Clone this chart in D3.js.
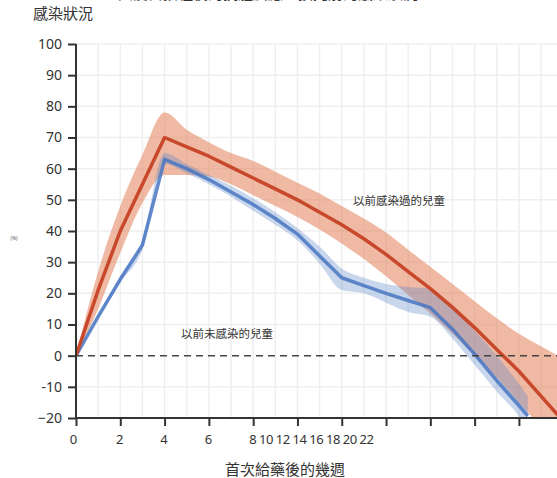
<!DOCTYPE html>
<html><head><meta charset="utf-8">
<script src="https://cdn.jsdelivr.net/npm/d3@7"></script>
<style>
html,body{margin:0;padding:0;background:#fff;}
svg{display:block;font-family:"Noto Sans","Noto Sans CJK TC",sans-serif;}
</style></head>
<body><svg id="c" width="557" height="478"></svg>
<script>
// ---- data ----
const weeksRed = [0,1,2,3,4,5,6,7,8,9,10,11,12,13,14,15,16,17,18,19,20,21,22];
const redMean  = [0,21,40,55,70,67,64,60.5,57,53.5,50,46,42,37.5,32.5,27,21.5,15.5,9,2,-5,-13,-21];
const redUpper = [0,27,48,64.5,78,72.5,68.5,65,62.5,59,55.5,52,48,44,39.5,34,28.5,23,17.5,12,7,3,-1];
const redLower = [0,15,33,49,58,58,57.5,55,51.5,48,44.5,40.5,36,31,25.5,19.5,13.5,7,0,-7,-15,-23,-31];

const weeksBlue = [0,1,2,3,4,5,6,7,8,9,10,11,12,13,14,15,16,17,18,19,20,20.4];
const blueMean  = [0,12.5,24.5,35.5,63,60,56.5,52.5,48.5,44,39,32,25,22.5,20,17.7,15.4,8.5,0.5,-8,-16,-19.3];
const blueUpper = [0,13,25.5,37,65,61.5,58,54.5,50.5,46,41,35,28,25,23,22,21.5,15,8,0,-9,-13];
const blueLower = [0,12,23.5,34,61.5,58.5,55,51,46.5,42,37,29.5,21,20,17,14,12.5,5.5,-3,-11.5,-19.5,-24];

const yTicks = [100,90,80,70,60,50,40,30,20,10,0,-10,-20];
const yTickLabels = ["100","90","80","70","60","50","40","30","20","10","0","-10","\u221220"];
const xTicks = [0,2,4,6,8,10,12,14,16,18,20];
const xTickLabels = ["0","2","4","6","","","","","","",""];
const xCrowdedLabel = "8 10 12 14 16 18 20 22";
const labelRed = "以前感染過的兒童";
const labelBlue = "以前未感染的兒童";

// ---- layout ----
const svg = d3.select("#c");
const L = 76, R = 557, T = 44, B = 418;
const x = d3.scaleLinear().domain([0, 21.72]).range([L, R]);
const y = d3.scaleLinear().domain([-20, 100]).range([B, T]);

svg.append("defs").append("clipPath").attr("id","clip")
  .append("rect").attr("x",L).attr("y",T-10).attr("width",R-L).attr("height",B-T+10);

// top text (cut off at the top edge, as in the reference)
svg.append("text").attr("x",118).attr("y",-1).attr("font-size",15).attr("fill","#333")
  .attr("font-family","Noto Sans CJK TC").text("與疫苗接種後的抗體反應：按先前的感染狀況");

svg.append("text").attr("x",33).attr("y",19).attr("font-size",15).attr("fill","#333")
  .attr("font-family","Noto Sans CJK TC").text("感染狀況");

// grid
const g = svg.append("g");
d3.range(1, 22).forEach(w => {
  g.append("line").attr("x1",x(w)).attr("x2",x(w)).attr("y1",T).attr("y2",B)
   .attr("stroke","#efefef").attr("stroke-width",1.5);
});
yTicks.filter(v => v!==0 && v!==-20).forEach(v => {
  g.append("line").attr("x1",L).attr("x2",R).attr("y1",y(v)).attr("y2",y(v))
   .attr("stroke","#efefef").attr("stroke-width",1.5);
});

// series
const plot = svg.append("g").attr("clip-path","url(#clip)");
const area = (ws, up, lo) => d3.area().x((d,i)=>x(ws[i])).y0((d,i)=>y(lo[i])).y1((d,i)=>y(up[i])).curve(d3.curveMonotoneX)(ws);
const line = (ws, m) => d3.line().x((d,i)=>x(ws[i])).y((d,i)=>y(m[i])).curve(d3.curveLinear)(ws);

plot.append("path").attr("d", area(weeksRed, redUpper, redLower)).attr("fill","rgb(226,128,90)").attr("fill-opacity",0.55);
plot.append("path").attr("d", area(weeksBlue, blueUpper, blueLower)).attr("fill","rgb(90,133,200)").attr("fill-opacity",0.33);
plot.append("path").attr("d", line(weeksBlue, blueMean)).attr("fill","none").attr("stroke","rgb(72,118,194)")
  .attr("stroke-opacity",0.85).attr("stroke-width",3.5).attr("stroke-linejoin","round");
plot.append("path").attr("d", line(weeksRed, redMean)).attr("fill","none").attr("stroke","#c8482b")
  .attr("stroke-width",3.5).attr("stroke-linejoin","round");

// zero dashed line
svg.append("line").attr("x1",L).attr("x2",R).attr("y1",y(0)).attr("y2",y(0))
  .attr("stroke","#444").attr("stroke-width",1.5).attr("stroke-dasharray","7,5");

// axes
const yAxis = d3.axisLeft(y).tickValues(yTicks).tickFormat((d,i)=>yTickLabels[i]).tickSize(8).tickPadding(6);
const ya = svg.append("g").attr("transform",`translate(${L},0)`).call(yAxis);
ya.select(".domain").attr("stroke","#333").attr("stroke-width",2).attr("d",`M0,${T}V${B+1}`);
ya.selectAll(".tick line").attr("stroke","#333").attr("stroke-width",2);
ya.selectAll(".tick text").attr("font-size",14).attr("fill","#333").attr("font-family","Noto Sans");

const xAxis = d3.axisBottom(x).tickValues(xTicks).tickFormat((d,i)=>xTickLabels[i]).tickSize(8).tickPadding(9);
const xa = svg.append("g").attr("transform",`translate(0,${B})`).call(xAxis);
xa.select(".domain").attr("stroke","#333").attr("stroke-width",2).attr("d",`M${L},0H${R}`);
xa.selectAll(".tick line").attr("stroke","#333").attr("stroke-width",2);
xa.selectAll(".tick text").attr("font-size",13).attr("fill","#333").attr("font-family","Noto Sans")
  .attr("dx",(d)=> d===0 ? -3 : -1);
svg.append("text").attr("x",x(8)-4).attr("y",B+26).attr("font-size",13).attr("fill","#333")
  .attr("font-family","Noto Sans").attr("letter-spacing",-0.5).text(xCrowdedLabel);

svg.append("text").attr("x",285).attr("y",475).attr("text-anchor","middle").attr("font-size",15).attr("fill","#333")
  .attr("font-family","Noto Sans CJK TC").text("首次給藥後的幾週");

svg.append("text").attr("x",14).attr("y",240).attr("text-anchor","middle").attr("font-size",5).attr("fill","#555").text("(%)");

// annotations
svg.append("text").attr("x",353).attr("y",205).attr("font-size",11.5).attr("fill","#333")
  .attr("font-family","Noto Sans CJK TC").text(labelRed);
svg.append("text").attr("x",181).attr("y",338).attr("font-size",11.5).attr("fill","#333")
  .attr("font-family","Noto Sans CJK TC").text(labelBlue);
</script></body></html>
